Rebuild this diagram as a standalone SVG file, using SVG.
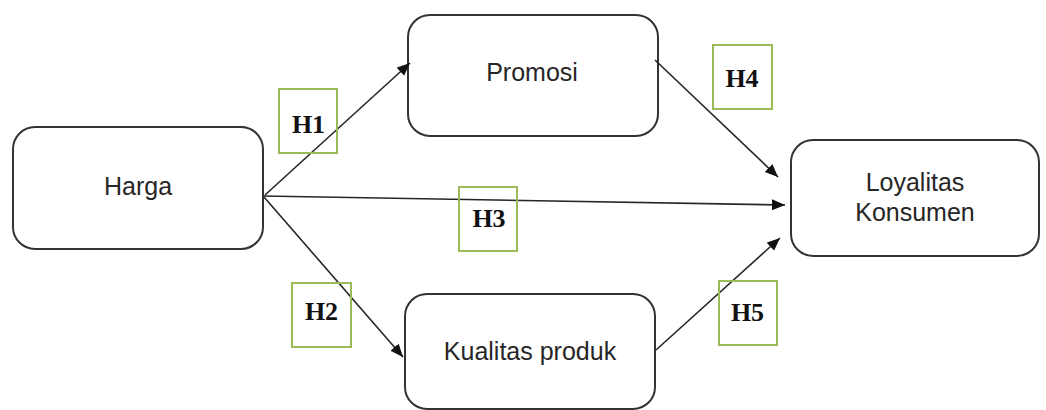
<svg xmlns="http://www.w3.org/2000/svg" width="1046" height="410" viewBox="0 0 1046 410">
  <style>
    .node rect { fill: #ffffff; stroke: #333333; stroke-width: 2; }
    .node text { font-family: "Liberation Sans", Arial, sans-serif; font-size: 25px; fill: #262626; text-anchor: middle; }
    .link { fill: none; stroke: #262626; stroke-width: 1.6; marker-end: url(#arrow); }
    .hyp rect { fill: none; stroke: #9bbb59; stroke-width: 2; }
    .hyp text { font-family: "Liberation Serif", "Times New Roman", serif; font-weight: bold; font-size: 26px; fill: #111111; text-anchor: middle; }
  </style>
  <defs>
    <marker id="arrow" markerUnits="userSpaceOnUse" markerWidth="14" markerHeight="12" refX="13" refY="5.5" orient="auto">
      <path d="M0,0 L13,5.5 L0,11 Z" fill="#111111"/>
    </marker>
  </defs>

  <rect width="1046" height="410" fill="#ffffff"/>

  <!-- variables -->
  <g id="harga" class="node">
    <rect x="13" y="127" width="250" height="122" rx="22"/>
    <text x="138" y="195">Harga</text>
  </g>
  <g id="promosi" class="node">
    <rect x="408" y="15" width="250" height="121" rx="22"/>
    <text x="532" y="81">Promosi</text>
  </g>
  <g id="kualitas-produk" class="node">
    <rect x="405" y="294" width="250" height="115" rx="22"/>
    <text x="530" y="360">Kualitas produk</text>
  </g>
  <g id="loyalitas-konsumen" class="node">
    <rect x="791" y="140" width="248" height="116" rx="22"/>
    <text x="915" y="191">Loyalitas</text>
    <text x="915" y="221">Konsumen</text>
  </g>

  <!-- paths between variables -->
  <g id="connectors">
    <line class="link" x1="265" y1="195" x2="410" y2="63"/>
    <line class="link" x1="263" y1="196" x2="785" y2="205"/>
    <line class="link" x1="264" y1="197" x2="403" y2="357"/>
    <line class="link" x1="655" y1="60" x2="778" y2="177"/>
    <line class="link" x1="656" y1="350" x2="780" y2="238"/>
  </g>

  <!-- hypothesis labels -->
  <g id="h1" class="hyp">
    <rect x="279" y="89" width="58" height="64"/>
    <text x="308.5" y="133">H1</text>
  </g>
  <g id="h2" class="hyp">
    <rect x="292" y="283" width="59" height="64"/>
    <text x="321.5" y="320">H2</text>
  </g>
  <g id="h3" class="hyp">
    <rect x="459" y="187" width="58" height="64"/>
    <text x="489" y="227">H3</text>
  </g>
  <g id="h4" class="hyp">
    <rect x="713" y="45" width="59" height="64"/>
    <text x="742" y="87">H4</text>
  </g>
  <g id="h5" class="hyp">
    <rect x="719" y="281" width="58" height="64"/>
    <text x="747.5" y="321">H5</text>
  </g>
</svg>
